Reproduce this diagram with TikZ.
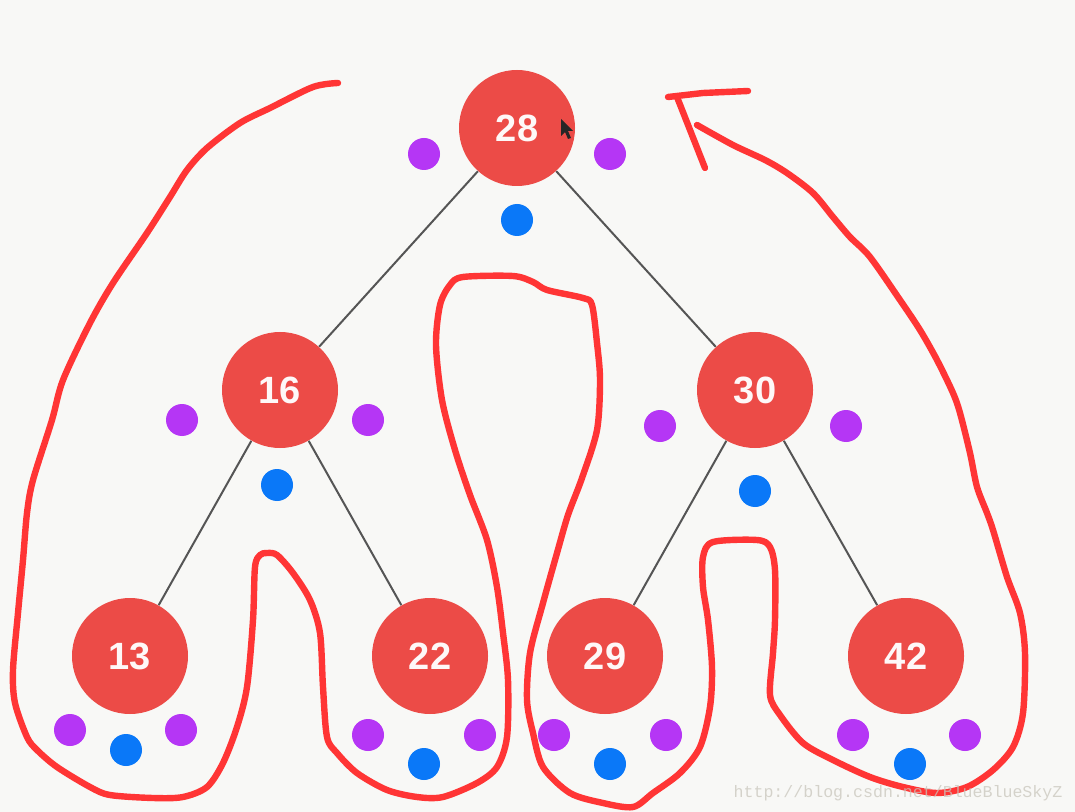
\documentclass[tikz,border=0pt]{standalone}
\usepackage{fontspec}
\setmainfont{Liberation Sans}
\newfontfamily\wmfont{Liberation Mono}
\definecolor{bgc}{HTML}{F8F8F6}
\definecolor{nodered}{HTML}{EC4B47}
\definecolor{penred}{HTML}{FF3535}
\definecolor{dotpurple}{HTML}{B536F5}
\definecolor{dotblue}{HTML}{0A78F8}
\definecolor{edgegray}{HTML}{555555}
\definecolor{wmgray}{HTML}{C9C6BC}
\tikzset{
  treenode/.style={circle, fill=nodered, minimum size=58pt, inner sep=0pt, text=white!96!nodered, font=\bfseries\fontsize{19}{19}\selectfont},
  pdot/.style={circle, fill=dotpurple, minimum size=16pt, inner sep=0pt},
  bdot/.style={circle, fill=dotblue, minimum size=16pt, inner sep=0pt},
  edge/.style={draw=edgegray, line width=1pt},
  pen/.style={draw=penred, line width=3.2pt, line cap=round, line join=round},
}
\begin{document}
\begin{tikzpicture}[x=0.5pt,y=-0.5pt]
\fill[bgc] (0,0) rectangle (1075,812);
\useasboundingbox (0,0) rectangle (1075,812);
% tree nodes
\node[treenode] (n28) at (517,128) {28};
\node[treenode] (n16) at (280,390) {16};
\node[treenode] (n30) at (755,390) {30};
\node[treenode] (n13) at (130,656) {13};
\node[treenode] (n22) at (430,656) {22};
\node[treenode] (n29) at (605,656) {29};
\node[treenode] (n42) at (906,656) {42};
% edges
\draw[edge] (n28) -- (n16);
\draw[edge] (n28) -- (n30);
\draw[edge] (n16) -- (n13);
\draw[edge] (n16) -- (n22);
\draw[edge] (n30) -- (n29);
\draw[edge] (n30) -- (n42);
% dots
\node[pdot] (p28a) at (424,154) {};
\node[pdot] (p28b) at (610,154) {};
\node[bdot] (b28) at (517,220) {};
\node[pdot] (p16a) at (182,420) {};
\node[pdot] (p16b) at (368,420) {};
\node[bdot] (b16) at (277,485) {};
\node[pdot] (p30a) at (660,426) {};
\node[pdot] (p30b) at (846,426) {};
\node[bdot] (b30) at (755,491) {};
\node[pdot] (p13a) at (70,730) {};
\node[pdot] (p13b) at (181,730) {};
\node[bdot] (b13) at (126,750) {};
\node[pdot] (p22a) at (368,735) {};
\node[pdot] (p22b) at (480,735) {};
\node[bdot] (b22) at (424,764) {};
\node[pdot] (p29a) at (554,735) {};
\node[pdot] (p29b) at (666,735) {};
\node[bdot] (b29) at (610,764) {};
\node[pdot] (p42a) at (853,735) {};
\node[pdot] (p42b) at (965,735) {};
\node[bdot] (b42) at (910,764) {};
% mouse cursor
\fill[black!85] (561,119) -- (561,136) -- (565,132) -- (568,139) -- (571,138) -- (568,131) -- (573,131) -- cycle;
% hand-drawn curve
\draw[pen] plot[smooth, tension=0.5] coordinates {
(338,83) (313,87) (270,108) (240,123) (207,148) (187,170) (170,197) (147,233) (113,283) (90,323) (63,380) (52,420) (33,480) (27,513) (23,560) (18,613) (13,670) (15,703) (27,737) (37,750) (57,767) (90,787) (110,795) (153,798) (183,797) (207,787) (223,763) (237,727) (247,687) (253,620) (255,567) (260,555) (267,553) (277,555) (293,573) (310,600) (320,633) (323,687) (327,737) (337,753) (357,773) (387,790) (417,797) (443,797) (477,783) (497,767) (507,737) (508,680) (503,633) (497,587) (487,540) (470,495) (455,450) (442,400) (436,345) (440,305) (450,285) (463,277) (513,276) (533,282) (547,290) (583,298) (592,305) (597,343) (600,380) (597,430) (582,478) (568,515) (557,553) (543,603) (530,653) (527,700) (533,733) (543,767) (570,793) (603,803) (633,807) (653,793) (680,773) (700,747) (710,707) (712,667) (708,620) (703,587) (703,557) (713,542) (757,540) (770,547) (775,570) (775,620) (773,653) (770,695) (780,715) (803,743) (833,760) (870,777) (903,787) (937,793) (967,787) (993,770) (1013,747) (1023,713) (1025,653) (1020,613) (1007,577) (993,530) (987,513) (977,487) (970,453) (960,413) (953,393) (937,360) (920,330) (900,300) (870,257) (850,237) (833,217) (813,193) (787,173) (765,160) (733,145) (697,125)};
% arrow head strokes
\coordinate (ah1) at (668,97);
\coordinate (ah2) at (703,93);
\coordinate (ah3) at (748,91);
\coordinate (ah4) at (677,97);
\coordinate (ah5) at (705,168);
\draw[pen] (ah1) -- (ah2) -- (ah3);
\draw[pen] (ah4) -- (ah5);
% watermark
\node[text=wmgray, text opacity=0.75, font=\wmfont\fontsize{8.3}{9}\selectfont, inner sep=0pt] (wm) at (898,793) {http://blog.csdn.net/BlueBlueSkyZ};
\end{tikzpicture}
\end{document}
